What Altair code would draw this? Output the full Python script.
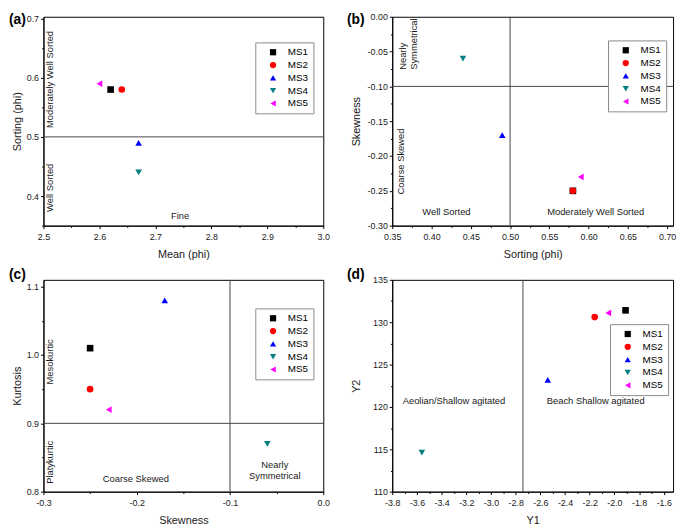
import altair as alt
import pandas as pd

# ---------------- data ----------------
samples = ["MS1", "MS2", "MS3", "MS4", "MS5"]
mean_phi = [2.62, 2.64, 2.67, 2.67, 2.60]
sorting_phi = [0.58, 0.58, 0.49, 0.44, 0.59]
skewness = [-0.25, -0.25, -0.17, -0.06, -0.23]
kurtosis = [1.01, 0.95, 1.08, 0.87, 0.92]
y1_values = [-1.91, -2.16, -2.54, -3.56, -2.05]
y2_values = [131.4, 130.6, 123.2, 114.6, 131.1]

marker_colors = ["#000000", "#FF0000", "#0000FF", "#008080", "#FF00FF"]
marker_shapes = ["square", "circle", "triangle-up", "triangle-down", "triangle-left"]

# class boundaries
sorting_limit = [0.5]
skew_limit = [-0.10]
kurt_limit = [0.9]
y1_limit = [-2.7411]

# annotations: x, y, text, style (vc = vertical centred, vl = vertical from anchor, h = horizontal)
notes_a = [(2.512, 0.597, "Moderately Well Sorted", "vc"),
           (2.512, 0.414, "Well Sorted", "vc"),
           (2.744, 0.366, "Fine", "h")]
notes_b = [(0.3635, -0.0762, "Nearly", "vl"),
           (0.3773, -0.0762, "Symmetrical", "vl"),
           (0.3613, -0.208, "Coarse Skewed", "vc"),
           (0.419, -0.280, "Well Sorted", "h"),
           (0.609, -0.280, "Moderately Well Sorted", "h")]
notes_c = [(-0.2926, 0.990, "Mesokurtic", "vc"),
           (-0.2926, 0.843, "Platykurtic", "vc"),
           (-0.201, 0.818, "Coarse Skewed", "h"),
           (-0.052, 0.839, "Nearly", "h"),
           (-0.052, 0.823, "Symmetrical", "h")]
notes_d = [(-3.30, 120.7, "Aeolian/Shallow agitated", "h"),
           (-2.152, 120.7, "Beach Shallow agitated", "h")]

FONT = "Liberation Sans"
TXT = "#1a1a1a"


def tick_values(lo, hi, step):
    n = int(round((hi - lo) / step))
    return [round(lo + i * step, 4) for i in range(n + 1)]


def make_axis(title, values, major, fmt, label_pad, title_pad, extent=None):
    is_major = f"abs(datum.value/{major} - round(datum.value/{major})) < 1e-6"
    kw = dict(
        title=title,
        values=values,
        grid=False,
        labelFlush=False,
        labelOverlap=False,
        labelPadding=label_pad,
        titlePadding=title_pad,
        labelExpr=f"{is_major} ? replace(format(datum.value, '{fmt}'), '\u2212', '-') : ''",
        tickSize={"condition": {"test": is_major, "value": 3}, "value": 1.8},
    )
    if extent is not None:
        kw["minExtent"] = extent
        kw["maxExtent"] = extent
    return alt.Axis(**kw)


def make_panel(xvals, yvals, xdom, ydom, xtitle, ytitle,
               xticks, xmajor, xfmt, yticks, ymajor, yfmt, yext, ytpad,
               w, h, hlines, vlines, notes, tag, tagx, tagy, legx, legy):
    xax = make_axis(xtitle, xticks, xmajor, xfmt, 4, 7)
    yax = make_axis(ytitle, yticks, ymajor, yfmt, 2, ytpad, yext)
    xs = alt.Scale(domain=xdom, nice=False, zero=False)
    ys = alt.Scale(domain=ydom, nice=False, zero=False)

    def xe():
        return alt.X("xv:Q", scale=xs, axis=xax)

    def ye():
        return alt.Y("yv:Q", scale=ys, axis=yax)

    layers = []
    if hlines:
        layers.append(alt.Chart(pd.DataFrame({"yv": hlines}))
                      .mark_rule(color="#444444", strokeWidth=1).encode(y=ye()))
    if vlines:
        layers.append(alt.Chart(pd.DataFrame({"xv": vlines}))
                      .mark_rule(color="#444444", strokeWidth=1).encode(x=xe()))

    ndf = pd.DataFrame(notes, columns=["xv", "yv", "text", "style"])
    styles = {
        "vc": dict(angle=270, align="center", baseline="middle"),
        "vl": dict(angle=270, align="left", baseline="middle"),
        "h": dict(align="center", baseline="middle"),
    }
    for st, props in styles.items():
        sub = ndf[ndf["style"] == st]
        if len(sub):
            layers.append(alt.Chart(sub).mark_text(fontSize=9.5, color=TXT, font=FONT, **props)
                          .encode(x=xe(), y=ye(), text="text:N"))

    layers.append(alt.Chart(pd.DataFrame({"t": [tag]}))
                  .mark_text(align="left", baseline="top", fontSize=14, fontWeight="bold",
                             color="#000000", font=FONT)
                  .encode(x=alt.value(tagx), y=alt.value(tagy), text="t:N"))

    leg = alt.Legend(orient="none", legendX=legx, legendY=legy, title=None,
                     strokeColor="#8a8a8a", padding=5, symbolOffset=8,
                     symbolSize=40, symbolStrokeWidth=0, labelOffset=10,
                     labelFontSize=10, labelFont=FONT, labelColor="#000000",
                     rowPadding=3, fillColor="#ffffff")
    df = pd.DataFrame({"sample": samples, "xv": xvals, "yv": yvals})
    layers.append(alt.Chart(df).mark_point(filled=True, size=45, opacity=1).encode(
        x=xe(), y=ye(),
        color=alt.Color("sample:N", scale=alt.Scale(domain=samples, range=marker_colors), legend=leg),
        shape=alt.Shape("sample:N", scale=alt.Scale(domain=samples, range=marker_shapes), legend=leg),
    ))
    return alt.layer(*layers).properties(width=w, height=h)


pa = make_panel(mean_phi, sorting_phi, [2.5, 3.0], [0.35, 0.703], "Mean (phi)", "Sorting (phi)",
                tick_values(2.5, 3.0, 0.05), 0.1, ".1f", tick_values(0.35, 0.70, 0.05), 0.1, ".1f", 18, 3,
                284, 212, sorting_limit, [], notes_a, "(a)", -35, -4, 215, 26)
pb = make_panel(sorting_phi, skewness, [0.35, 0.7075], [-0.30, 0.0], "Sorting (phi)", "Skewness",
                tick_values(0.35, 0.70, 0.025), 0.05, ".2f", tick_values(-0.30, 0.0, 0.025), 0.05, ".2f", 26, 5,
                285, 212, skew_limit, sorting_limit, notes_b, "(b)", -46, -4, 219, 24)
pc = make_panel(skewness, kurtosis, [-0.3, 0.0], [0.8, 1.11], "Skewness", "Kurtosis",
                tick_values(-0.3, 0.0, 0.05), 0.1, ".1f", tick_values(0.8, 1.1, 0.05), 0.1, ".1f", 18, 3,
                284, 215, kurt_limit, skew_limit, notes_c, "(c)", -35, -12, 215, 29)
pd_ = make_panel(y1_values, y2_values, [-3.8, -1.525], [110, 135], "Y1", "Y2",
                 tick_values(-3.8, -1.6, 0.1), 0.2, ".1f", tick_values(110, 135, 2.5), 5, "d", 26, 5,
                 285, 215, [], y1_limit, notes_d, "(d)", -46, -12, 221, 45)

chart = (
    alt.concat(pa, pb, pc, pd_, columns=2, spacing={"row": 7, "column": 16}, align="each")
    .resolve_scale(color="independent", shape="independent")
    .resolve_legend(color="independent", shape="independent")
    .properties(padding={"left": 0, "top": 0, "right": 0, "bottom": 0}, background="#ffffff")
    .configure(font=FONT)
    .configure_view(stroke="#000000", strokeWidth=1)
    .configure_axis(labelFont=FONT, titleFont=FONT, labelFontSize=9, titleFontSize=11,
                    titleFontWeight="normal", domainColor="#000000", tickColor="#000000",
                    labelColor=TXT, titleColor=TXT, domainWidth=1, tickWidth=1)
)

chart.save("out.html", embed_options={"renderer": "svg", "actions": False})
